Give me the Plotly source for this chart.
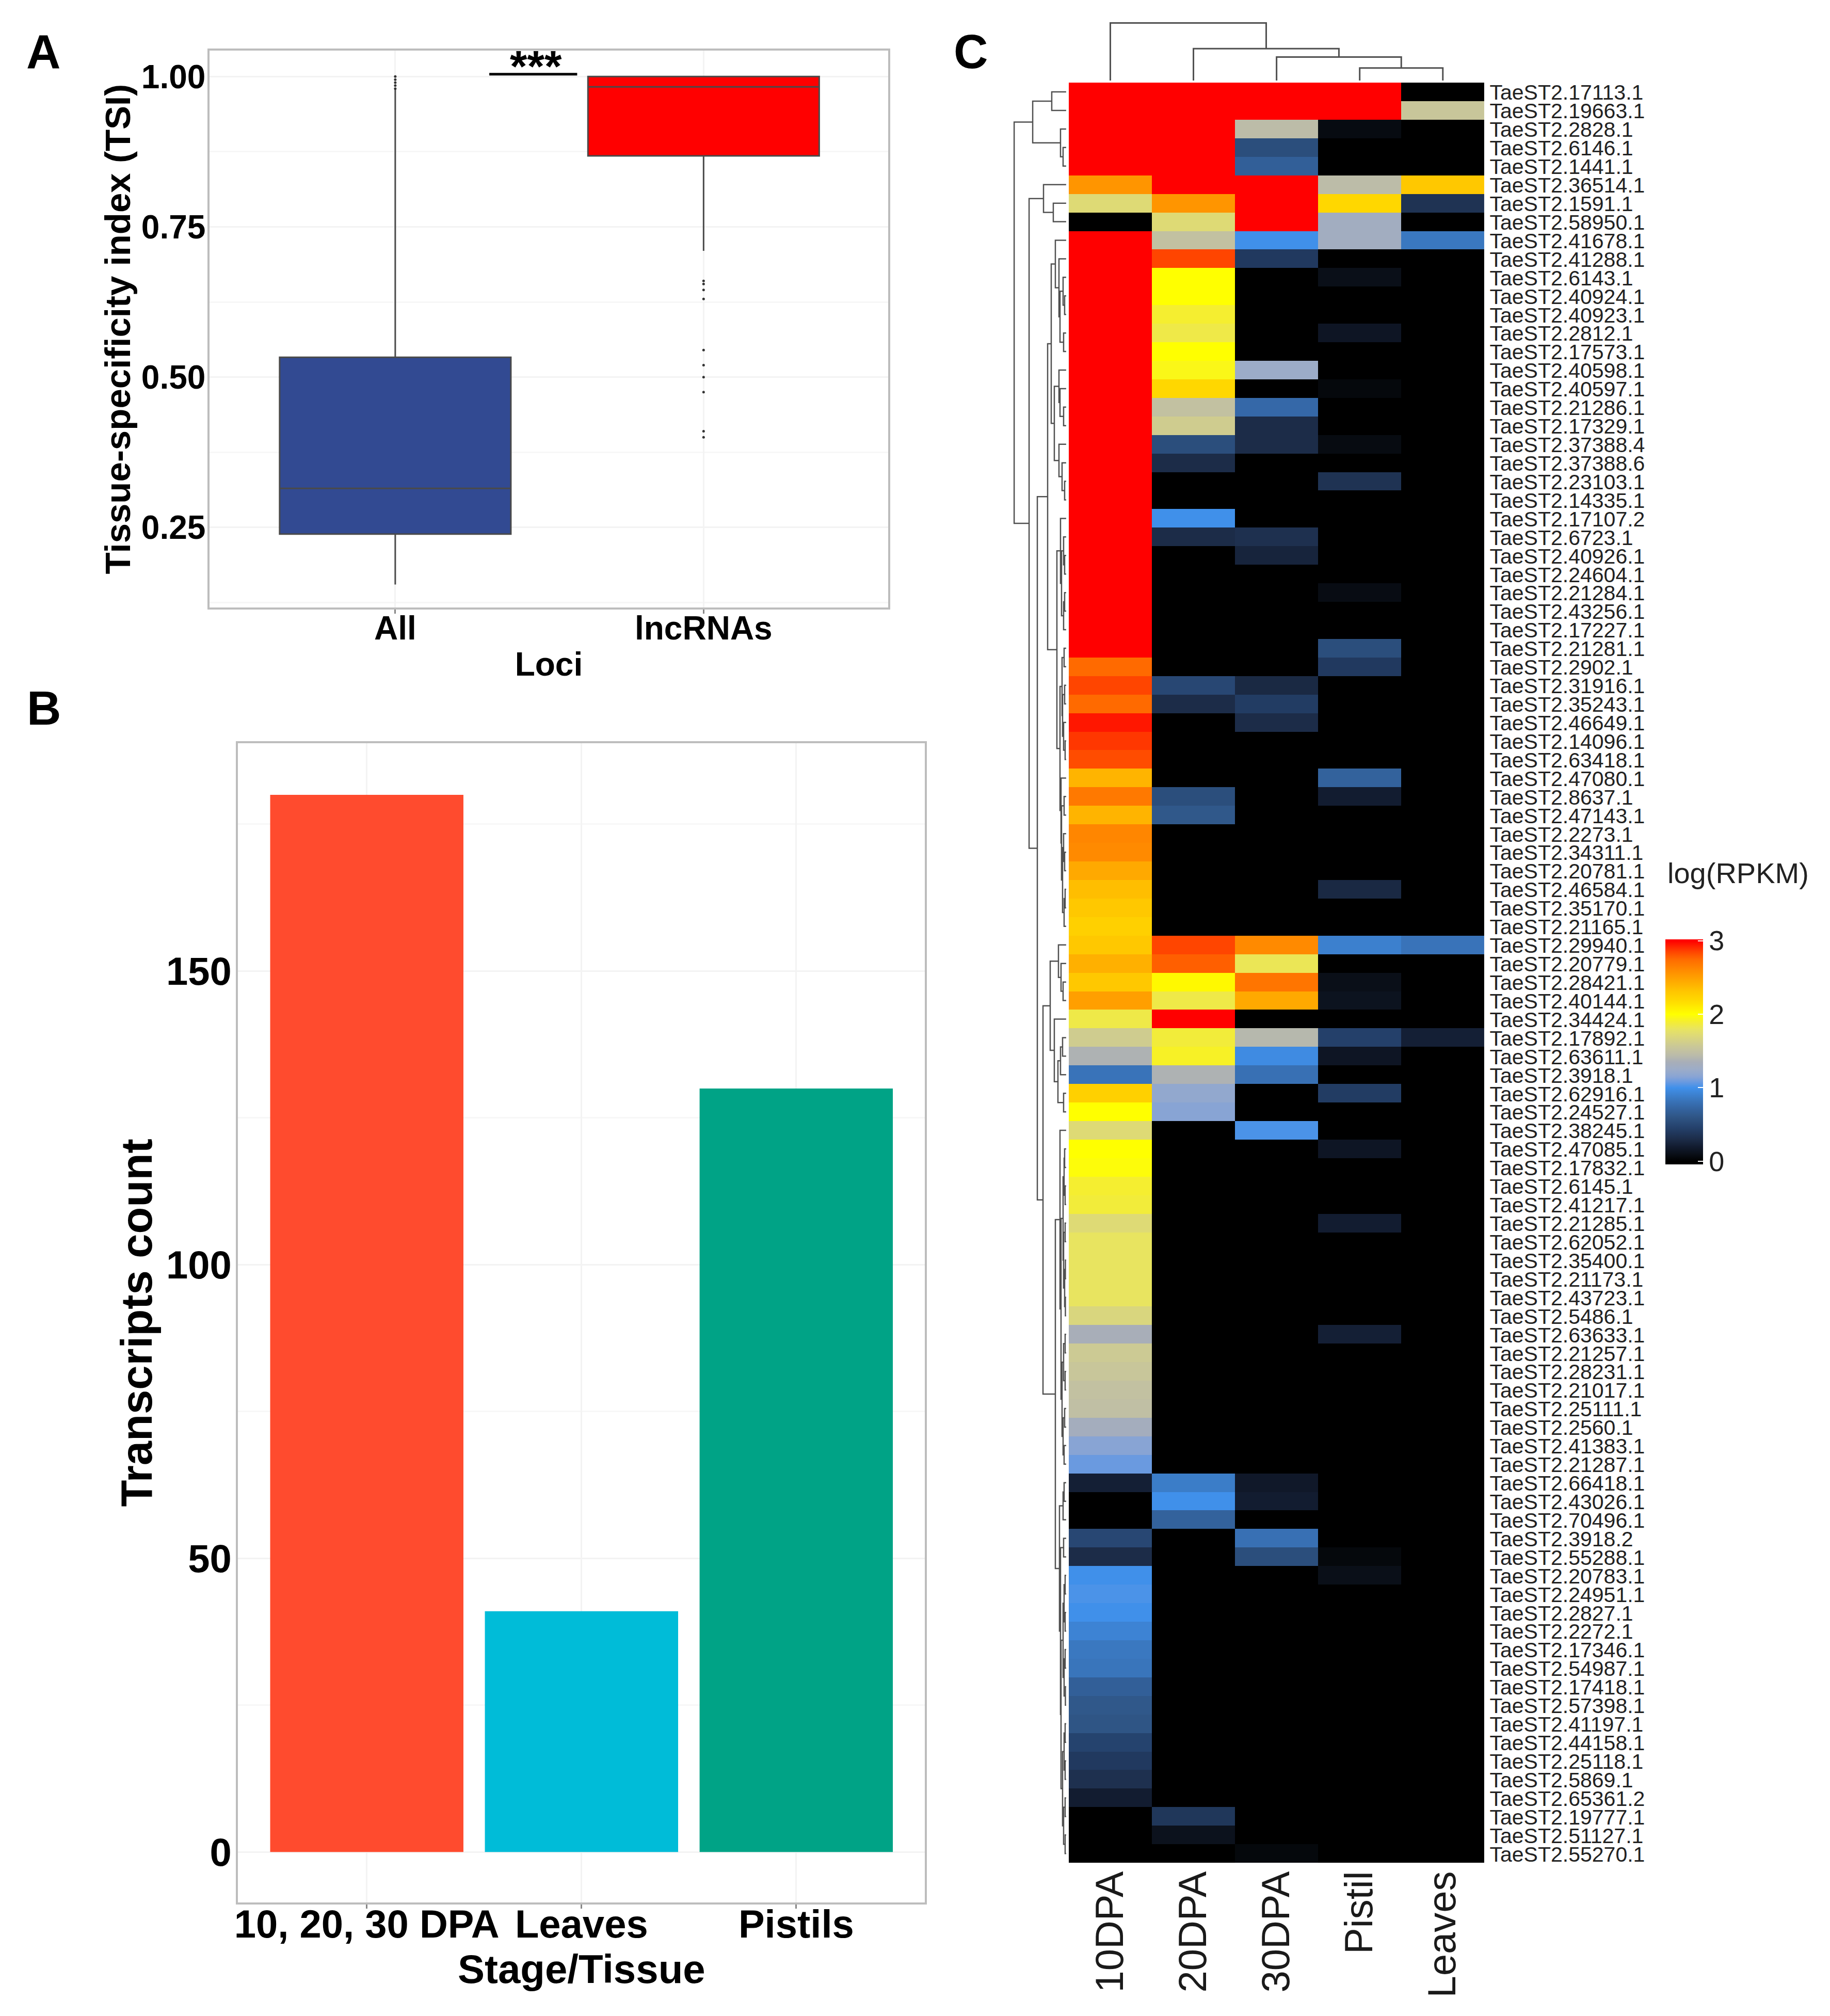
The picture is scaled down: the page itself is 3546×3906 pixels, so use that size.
import plotly.graph_objects as go

W, H = 3546, 3906
DY = 6.5

# ---------- Panel A data ----------
BOX_NAMES = ["All", "lncRNAs"]
BOX_Q1 = [0.239, 0.868]
BOX_MEDIAN = [0.315, 0.983]
BOX_Q3 = [0.533, 1.0]
BOX_LOW = [0.155, 0.71]
BOX_HIGH = [0.98, 1.0]
BOX_COLORS = ["#324A92", "#FF0000"]
OUT_ALL = [1.0, 0.995, 0.99, 0.985, 0.98]
OUT_LNC = [0.66, 0.655, 0.645, 0.63, 0.545, 0.52, 0.50, 0.475, 0.41, 0.40]
SIG_X = [0.305, 0.59]
SIG_Y = [1.004, 1.004]

# ---------- Panel B data ----------
BAR_CATS = ["10, 20, 30 DPA", "Leaves", "Pistils"]
BAR_VALUES = [180, 41, 130]
BAR_COLORS = ["#FF4B2E", "#00BCD8", "#00A386"]

# ---------- Panel C data ----------
COLUMNS = ["10DPA", "20DPA", "30DPA", "Pistil", "Leaves"]
ROW_IDS = ["17113.1","19663.1","2828.1","6146.1","1441.1","36514.1","1591.1","58950.1","41678.1","41288.1",
 "6143.1","40924.1","40923.1","2812.1","17573.1","40598.1","40597.1","21286.1","17329.1","37388.4",
 "37388.6","23103.1","14335.1","17107.2","6723.1","40926.1","24604.1","21284.1","43256.1","17227.1",
 "21281.1","2902.1","31916.1","35243.1","46649.1","14096.1","63418.1","47080.1","8637.1","47143.1",
 "2273.1","34311.1","20781.1","46584.1","35170.1","21165.1","29940.1","20779.1","28421.1","40144.1",
 "34424.1","17892.1","63611.1","3918.1","62916.1","24527.1","38245.1","47085.1","17832.1","6145.1",
 "41217.1","21285.1","62052.1","35400.1","21173.1","43723.1","5486.1","63633.1","21257.1","28231.1",
 "21017.1","25111.1","2560.1","41383.1","21287.1","66418.1","43026.1","70496.1","3918.2","55288.1",
 "20783.1","24951.1","2827.1","2272.1","17346.1","54987.1","17418.1","57398.1","41197.1","44158.1",
 "25118.1","5869.1","65361.2","19777.1","51127.1","55270.1"]
ROW_LABELS = ["TaeST2." + r for r in ROW_IDS]

V_10DPA = [3,3,3,3,3,2.55,1.72,0,3,3,
 3,3,3,3,3,3,3,3,3,3,
 3,3,3,3,3,3,3,3,3,3,
 3,2.75,2.85,2.75,2.95,2.88,2.83,2.4,2.68,2.4,
 2.62,2.6,2.45,2.35,2.3,2.25,2.3,2.42,2.3,2.5,
 1.85,1.6,1.38,0.82,2.25,2.0,1.72,2.0,1.98,1.9,
 1.88,1.72,1.8,1.8,1.8,1.8,1.68,1.35,1.58,1.55,
 1.5,1.48,1.32,1.15,1.08,0.22,0,0,0.5,0.3,
 1.0,1.02,1.0,0.92,0.85,0.83,0.68,0.62,0.6,0.47,
 0.4,0.33,0.2,0,0,0]
V_20DPA = [3,3,3,3,3,3,2.55,1.72,1.5,2.85,
 2,2,1.9,1.85,2,1.95,2.2,1.5,1.6,0.55,
 0.3,0,0,1.0,0.3,0,0,0,0,0,
 0,0,0.5,0.3,0,0,0,0,0.55,0.62,
 0,0,0,0,0,0,2.85,2.78,2.03,1.85,
 3,1.88,1.92,1.38,1.2,1.15,0,0,0,0,
 0,0,0,0,0,0,0,0,0,0,
 0,0,0,0,0,0.88,1.0,0.7,0,0,
 0,0,0,0,0,0,0,0,0,0,
 0,0,0,0.38,0.12,0]
V_30DPA = [3,3,1.45,0.55,0.68,3,3,3,1.0,0.4,
 0,0,0,0,0,1.25,0,0.75,0.3,0.3,
 0,0,0,0,0.33,0.25,0,0,0,0,
 0,0,0.28,0.42,0.3,0,0,0,0,0,
 0,0,0,0,0,0,2.6,1.82,2.7,2.45,
 0,1.42,0.97,0.8,0,0,1.02,0,0,0,
 0,0,0,0,0,0,0,0,0,0,
 0,0,0,0,0,0.17,0.2,0,0.8,0.55,
 0,0,0,0,0,0,0,0,0,0,
 0,0,0,0,0,0.05]
V_PISTIL = [3,3,0.07,0,0,1.45,2.2,1.3,1.3,0,
 0.1,0,0,0.15,0,0,0.05,0,0,0.07,
 0,0.35,0,0,0,0,0,0.08,0,0,
 0.55,0.4,0,0,0,0,0,0.7,0.2,0,
 0,0,0,0.28,0,0,0.9,0,0.1,0.13,
 0,0.45,0.15,0,0.42,0,0,0.15,0,0,
 0,0.2,0,0,0,0,0,0.22,0,0,
 0,0,0,0,0,0,0,0,0,0.05,
 0.1,0,0,0,0,0,0,0,0,0,
 0,0,0,0,0,0]
V_LEAVES = [0,1.55,0,0,0,2.3,0.35,0,0.85,0,
 0,0,0,0,0,0,0,0,0,0,
 0,0,0,0,0,0,0,0,0,0,
 0,0,0,0,0,0,0,0,0,0,
 0,0,0,0,0,0,0.82,0,0,0,
 0,0.22,0,0,0,0,0,0,0,0,
 0,0,0,0,0,0,0,0,0,0,
 0,0,0,0,0,0,0,0,0,0,
 0,0,0,0,0,0,0,0,0,0,
 0,0,0,0,0,0]

# value -> colour stops
CMAP_VALUES = [0, 0.1, 0.2, 0.3, 0.45, 0.6, 0.75, 0.85, 1.0, 1.08, 1.15, 1.25, 1.35, 1.45, 1.55, 1.7,
               1.8, 1.9, 2.0, 2.2, 2.3, 2.55, 2.75, 2.85, 3.0]
CMAP_COLORS = ["#000000", "#0A0F18", "#121C30", "#1C2C48", "#24406A", "#2F5585", "#3568A8", "#3A78C0",
               "#4090EA", "#6A9AE0", "#88A4D4", "#9CACC8", "#A8AEB8", "#BCBCA8", "#C8C69A", "#DCD87A",
               "#E8E460", "#F5EE30", "#FFFF00", "#FFD700", "#FFC800", "#FF9500", "#FF6A00", "#FF4500", "#FF0000"]

# dendrograms: nested (height, left, right); integers are leaves
COL_TREE = (110, 0, (61, 1, (45, 2, (24, 3, 4))))
ROW_TREE = (101,
 (65, (28, 0, 1), (11, 2, (6, 3, 4))),
 (72,
  (44, 5, (25, 6, 7)),
  (56,
   (36,
    (29,
     (21, 8, (14, 9, (12, (6, 10, (3, 11, 12)), (5, 13, 14)))),
     (23, (14, 15, (12, 16, (5, 17, 18))), (14, 19, (8, 20, (3, 21, 22))))),
    (18,
     (11, 23, (9, (5, 24, (3, 25, 26)), (5, (3, 27, 28), 29))),
     (12,
      (8, (4, 30, 31), (7, (3, 32, 33), (5, 34, (2, 35, 36)))),
      (10, 37, (9, (4, 38, 39), (7, (5, 40, (3, 41, 42)), (4, (2, 43, 44), 45))))))),
   (45,
    (31,
     (15, 46, (10, 47, (6, 48, 49))),
     (23, 50, (16, (11, (7, 51, 52), 53), (5, 54, 55)))),
    (21,
     (12, 56,
      (10,
       (6, (4, (3, 57, 58), (2, 59, 60)), (5, (2, 61, 62), (3, (1.5, 63, 64), (1.5, 65, 66)))),
       (8, (5, (2, 67, 68), (2, 69, 70)), (6, (3, 71, 72), (4, 73, 74))))),
     (13,
      (6, (4, 75, 76), 77),
      (11, (5, 78, 79),
       (10,
        (6, (4, (2, 80, 81), (2, 82, 83)), (4, (2, 84, 85), (1.5, 86, 87))),
        (7, (4, (2, 88, 89), (2, 90, 91)), (5, (2, 92, 93), (2, 94, 95)))))))))))

FONT = "Liberation Sans"
BOLD = "Liberation Sans, Arial, sans-serif"
GRID = "#F3F3F3"
BORDER = "#BDBDBD"


def fx(px):
    return px / W


def fy(px):
    return 1 - (px + DY) / H


def walk(node, pos_out, hgt_out):
    """Return (position, height) of a node, appending its bracket segments."""
    if isinstance(node, int):
        return node, 0
    h, left, right = node
    p1, h1 = walk(left, pos_out, hgt_out)
    p2, h2 = walk(right, pos_out, hgt_out)
    pos_out += [p1, p1, p2, p2, None]
    hgt_out += [h1, h, h, h2, None]
    return (p1 + p2) / 2, h


fig = go.Figure()

# ---------- Panel A ----------
for i, name in enumerate(BOX_NAMES):
    fig.add_trace(go.Box(
        x=[i], q1=[BOX_Q1[i]], median=[BOX_MEDIAN[i]], q3=[BOX_Q3[i]],
        lowerfence=[BOX_LOW[i]], upperfence=[BOX_HIGH[i]], width=0.75, whiskerwidth=0,
        fillcolor=BOX_COLORS[i], line=dict(color="#4A4A4A", width=3), name=name,
        boxpoints=False, showlegend=False, xaxis="x", yaxis="y"))
fig.add_trace(go.Scatter(x=[0] * len(OUT_ALL), y=OUT_ALL, mode="markers",
                         marker=dict(color="#333333", size=5), showlegend=False, xaxis="x", yaxis="y"))
fig.add_trace(go.Scatter(x=[1] * len(OUT_LNC), y=OUT_LNC, mode="markers",
                         marker=dict(color="#333333", size=5), showlegend=False, xaxis="x", yaxis="y"))
fig.add_trace(go.Scatter(x=SIG_X, y=SIG_Y, mode="lines", line=dict(color="black", width=5),
                         showlegend=False, xaxis="x", yaxis="y"))

# ---------- Panel B ----------
fig.add_trace(go.Bar(x=BAR_CATS, y=BAR_VALUES, marker=dict(color=BAR_COLORS, line=dict(width=0)),
                     width=0.9, showlegend=False, xaxis="x2", yaxis="y2"))

# ---------- Panel C ----------
Z = [list(r) for r in zip(V_10DPA, V_20DPA, V_30DPA, V_PISTIL, V_LEAVES)]
ZMIN, ZMAX = -0.042, 3.02
scale = [[(max(v, ZMIN) - ZMIN) / (ZMAX - ZMIN), c] for v, c in zip(CMAP_VALUES, CMAP_COLORS)]
scale = [[0, "#000000"]] + scale + [[1, "#FF0000"]]
fig.add_trace(go.Heatmap(
    z=Z, x=list(range(len(COLUMNS))), y=list(range(len(ROW_LABELS))), zmin=ZMIN, zmax=ZMAX,
    colorscale=scale, xaxis="x3", yaxis="y3",
    colorbar=dict(
        thicknessmode="pixels", thickness=73, lenmode="pixels", len=436,
        x=fx(3226), xanchor="left", xpad=0, y=fy(2251), yanchor="bottom", ypad=0,
        outlinewidth=0, tickmode="array", tickvals=[0, 1, 2, 3], ticktext=["0", "1", "2", "3"],
        ticks="inside", ticklen=10, tickwidth=2, tickcolor="#FFFFFF",
        tickfont=dict(family=FONT, size=54, color="#222222"),
    )))

px_, ph_ = [], []
walk(ROW_TREE, px_, ph_)
fig.add_trace(go.Scatter(x=ph_, y=px_, mode="lines", line=dict(color="#505050", width=2.5),
                         showlegend=False, xaxis="x4", yaxis="y4", hoverinfo="skip"))
cx_, ch_ = [], []
walk(COL_TREE, cx_, ch_)
fig.add_trace(go.Scatter(x=cx_, y=ch_, mode="lines", line=dict(color="#505050", width=3),
                         showlegend=False, xaxis="x5", yaxis="y5", hoverinfo="skip"))

box_axis = dict(showline=True, mirror=True, linecolor=BORDER, linewidth=4, zeroline=False,
                showgrid=True, gridcolor=GRID, gridwidth=3)
HM_X = [fx(2068), fx(2875)]
HM_Y = [fy(3608), fy(150)]

fig.update_layout(
    width=W, height=H, autosize=False, margin=dict(l=0, r=0, t=0, b=0),
    paper_bgcolor="white", plot_bgcolor="white", boxmode="overlay", bargap=0.1,
    font=dict(family=BOLD, color="black"),
    xaxis=dict(box_axis, domain=[fx(400), fx(1717)], range=[-0.602, 1.598], tickmode="array",
               tickvals=[0, 1], ticktext=BOX_NAMES, ticks="outside", ticklen=8, tickwidth=3, tickcolor="#888888",
               ticklabelstandoff=-27,
               tickfont=dict(family=BOLD, size=64, color="black", weight="bold"), anchor="y",
               title=dict(text="Loci", font=dict(family=BOLD, size=64, color="black", weight="bold"), standoff=13)),
    yaxis=dict(box_axis, domain=[fy(1169.5), fy(88)], range=[0.1168, 1.043], tickmode="array",
               tickvals=[0.25, 0.5, 0.75, 1.0], ticktext=["0.25", "0.50", "0.75", "1.00"],
               minor=dict(tickvals=[0.125, 0.375, 0.625, 0.875], showgrid=True, gridcolor="#F7F7F7", gridwidth=3),
               ticks="", ticklabelstandoff=-9,
               tickfont=dict(family=BOLD, size=64, color="black", weight="bold"), anchor="x",
               title=dict(text="Tissue-specificity index (TSI)",
                          font=dict(family=BOLD, size=69, color="black", weight="bold"), standoff=0)),
    xaxis2=dict(box_axis, domain=[fx(455), fx(1789)], range=[-0.6, 2.6], type="category",
                categoryorder="array", categoryarray=BAR_CATS, ticks="outside", ticklen=8, tickwidth=3,
                tickcolor="#888888", ticklabelstandoff=-35,
                tickfont=dict(family=BOLD, size=76, color="black", weight="bold"), anchor="y2",
                title=dict(text="Stage/Tissue", font=dict(family=BOLD, size=78, color="black", weight="bold"),
                           standoff=19)),
    yaxis2=dict(box_axis, domain=[fy(3685), fy(1433)], range=[-8.59, 188.8], tickmode="array",
                tickvals=[0, 50, 100, 150],
                minor=dict(tickvals=[25, 75, 125, 175], showgrid=True, gridcolor="#F7F7F7", gridwidth=3),
                ticks="", ticklabelstandoff=-7,
                tickfont=dict(family=BOLD, size=76, color="black", weight="bold"), anchor="x2",
                title=dict(text="Transcripts count",
                           font=dict(family=BOLD, size=85, color="black", weight="bold"), standoff=0)),
    xaxis3=dict(domain=HM_X, range=[-0.5, 4.5], tickmode="array", tickvals=list(range(len(COLUMNS))),
                ticktext=COLUMNS, tickangle=-90, showgrid=False, zeroline=False, showline=False, ticks="",
                tickfont=dict(family=FONT, size=76, color="#1A1A1A"), anchor="y3"),
    yaxis3=dict(domain=HM_Y, range=[95.5, -0.5], side="right", tickmode="array",
                tickvals=list(range(len(ROW_LABELS))), ticktext=ROW_LABELS, showgrid=False, zeroline=False,
                showline=False, ticks="outside", ticklen=1, tickcolor="white", ticklabelshift=-1,
                tickfont=dict(family=FONT, size=41, color="#222222"), anchor="x3"),
    xaxis4=dict(domain=[fx(1955), fx(2063)], range=[108, 0], visible=False, anchor="y4"),
    yaxis4=dict(domain=HM_Y, range=[95.5, -0.5], visible=False, anchor="x4"),
    xaxis5=dict(domain=HM_X, range=[-0.5, 4.5], visible=False, anchor="y5"),
    yaxis5=dict(domain=[fy(146), fy(29)], range=[0, 115], visible=False, anchor="x5"),
    annotations=[
        dict(text="<b>A</b>", x=fx(77), y=fy(90), xref="paper", yref="paper", showarrow=False,
             xanchor="center", yanchor="middle", font=dict(family=BOLD, size=92, color="black")),
        dict(text="<b>B</b>", x=fx(78), y=fy(1365), xref="paper", yref="paper", showarrow=False,
             xanchor="center", yanchor="middle", font=dict(family=BOLD, size=92, color="black")),
        dict(text="<b>C</b>", x=fx(1878), y=fy(90), xref="paper", yref="paper", showarrow=False,
             xanchor="center", yanchor="middle", font=dict(family=BOLD, size=92, color="black")),
        dict(text="<b>***</b>", x=fx(1034), y=fy(118), xref="paper", yref="paper", showarrow=False,
             xanchor="center", yanchor="middle", font=dict(family=BOLD, size=86, color="black")),
        dict(text="log(RPKM)", x=fx(3228), y=fy(1685), xref="paper", yref="paper", showarrow=False,
             xanchor="left", yanchor="middle", font=dict(family=FONT, size=56, color="#222222")),
    ],
)
fig.update_traces(hoverinfo="skip")

fig.write_html("out.html", config={"displayModeBar": False}, post_script="document.body.style.margin='0';")
